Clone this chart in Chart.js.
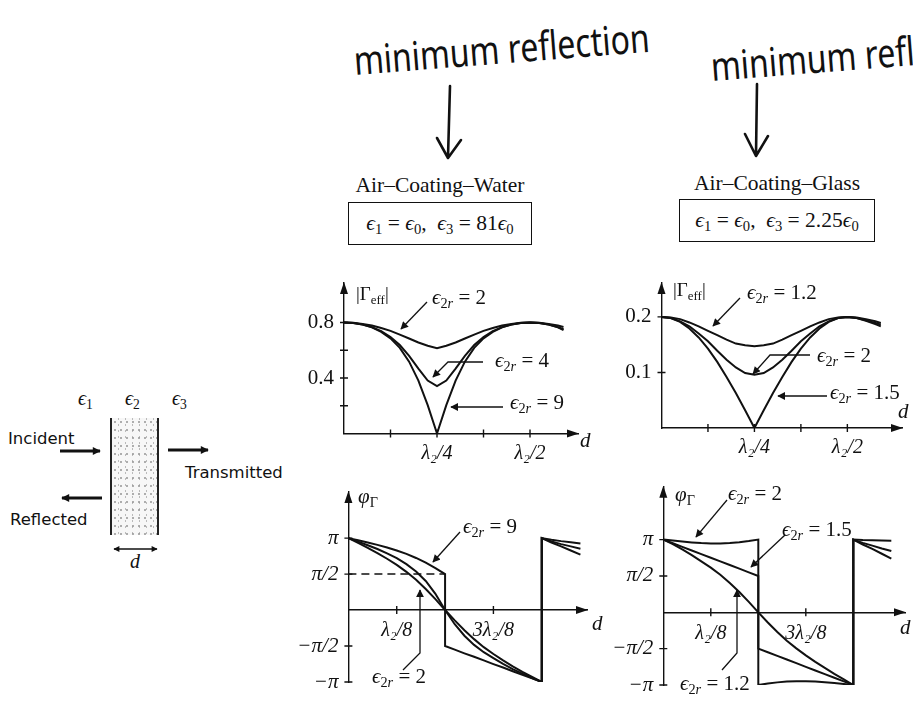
<!DOCTYPE html>
<html>
<head>
<meta charset="utf-8">
<script src="https://cdn.jsdelivr.net/npm/chart.js@4.4.1/dist/chart.umd.min.js"></script>
<style>
html, body { margin: 0; padding: 0; background: #fff; }
body { width: 913px; height: 701px; position: relative; overflow: hidden; font-family: "Liberation Serif", serif; color: #111; }
canvas { position: absolute; }
.t { position: absolute; white-space: nowrap; line-height: 1; font-size: 21px; }
.t sub { font-size: 0.68em; vertical-align: -0.3em; line-height: 0; }
.sm { font-size: 19px; }
.sans { font-family: "DejaVu Sans", sans-serif; font-size: 16.5px; }
.hand { position: absolute; white-space: nowrap; line-height: 1; font-family: "Noto Sans", sans-serif; font-size: 40px; color: #111; transform-origin: 0 35.5px; }
.box { position: absolute; border: 1.5px solid #111; box-sizing: border-box; display: flex; align-items: center; justify-content: center; font-size: 21.5px; white-space: nowrap; }
.box sub { font-size: 0.68em; vertical-align: -0.3em; line-height: 0; }
.slab { position: absolute; left: 110px; top: 418px; width: 49px; height: 117px; box-sizing: border-box;
  border-left: 2px solid #222; border-right: 2px solid #222;
  background: radial-gradient(circle, #999 0 0.6px, transparent 1.1px) 0 0 / 6px 8px,
              radial-gradient(circle, #bbb 0 0.5px, transparent 1px) 3px 4px / 7px 6px, #f7f7f7; }
svg { position: absolute; left: 0; top: 0; }
</style>
</head>
<body>

<div class="hand" style="left:355px; top:40px; transform: rotate(-4.5deg) scaleX(0.8);">minimum reflection</div>
<div class="hand" style="left:712px; top:46px; transform: rotate(-4.5deg) scaleX(0.8);">minimum reflection</div>

<div class="t" style="left:340px; top:175px; width:200px; text-align:center; font-size:21.5px;">Air–Coating–Water</div>
<div class="box" style="left:348px; top:202px; width:184px; height:43px;"><span><i>ϵ</i><sub>1</sub> = <i>ϵ</i><sub>0</sub>,&nbsp; <i>ϵ</i><sub>3</sub> = 81<i>ϵ</i><sub>0</sub></span></div>
<div class="t" style="left:677px; top:173px; width:200px; text-align:center; font-size:21.5px;">Air–Coating–Glass</div>
<div class="box" style="left:679px; top:199px; width:196px; height:43px;"><span><i>ϵ</i><sub>1</sub> = <i>ϵ</i><sub>0</sub>,&nbsp; <i>ϵ</i><sub>3</sub> = 2.25<i>ϵ</i><sub>0</sub></span></div>

<!-- slab diagram -->
<div class="slab"></div>
<div class="t" style="left:78px; top:388px; font-size:20px;"><i>ϵ</i><sub>1</sub></div>
<div class="t" style="left:125px; top:388px; font-size:20px;"><i>ϵ</i><sub>2</sub></div>
<div class="t" style="left:172px; top:388px; font-size:20px;"><i>ϵ</i><sub>3</sub></div>
<div class="t sans" style="left:8px; top:431px;">Incident</div>
<div class="t sans" style="left:185px; top:465px;">Transmitted</div>
<div class="t sans" style="left:10px; top:512px;">Reflected</div>
<div class="t" style="left:130px; top:551px; font-size:20px;"><i>d</i></div>

<canvas id="magWater"></canvas>
<canvas id="magGlass"></canvas>
<canvas id="phWater"></canvas>
<canvas id="phGlass"></canvas>

<!-- curve labels -->
<div class="t sm" style="left:356px; top:284px;">|Γ<sub>eff</sub>|</div>
<div class="t" style="left:432px; top:286.5px;"><i>ϵ</i><sub>2<i>r</i></sub> = 2</div>
<div class="t" style="left:495px; top:349.5px;"><i>ϵ</i><sub>2<i>r</i></sub> = 4</div>
<div class="t" style="left:510px; top:391.5px;"><i>ϵ</i><sub>2<i>r</i></sub> = 9</div>
<div class="t" style="left:580px; top:429.5px;"><i>d</i></div>

<div class="t sm" style="left:673px; top:280px;">|Γ<sub>eff</sub>|</div>
<div class="t" style="left:747px; top:281.5px;"><i>ϵ</i><sub>2<i>r</i></sub> = 1.2</div>
<div class="t" style="left:817px; top:344.5px;"><i>ϵ</i><sub>2<i>r</i></sub> = 2</div>
<div class="t" style="left:830px; top:381.5px;"><i>ϵ</i><sub>2<i>r</i></sub> = 1.5</div>
<div class="t" style="left:898px; top:401px;"><i>d</i></div>

<div class="t" style="left:358px; top:485.5px;"><i>φ</i><sub>Γ</sub></div>
<div class="t" style="left:463px; top:515.5px;"><i>ϵ</i><sub>2<i>r</i></sub> = 9</div>
<div class="t" style="left:372px; top:665.5px;"><i>ϵ</i><sub>2<i>r</i></sub> = 2</div>
<div class="t" style="left:592px; top:612.5px;"><i>d</i></div>

<div class="t" style="left:675px; top:483.5px;"><i>φ</i><sub>Γ</sub></div>
<div class="t" style="left:728px; top:482.5px;"><i>ϵ</i><sub>2<i>r</i></sub> = 2</div>
<div class="t" style="left:782px; top:518.5px;"><i>ϵ</i><sub>2<i>r</i></sub> = 1.5</div>
<div class="t" style="left:680px; top:672.5px;"><i>ϵ</i><sub>2<i>r</i></sub> = 1.2</div>
<div class="t" style="left:900px; top:616.5px;"><i>d</i></div>

<svg width="913" height="701">
  <defs>
    <marker id="ah" viewBox="0 0 10 10" refX="9" refY="5" markerWidth="7" markerHeight="6" orient="auto">
      <path d="M0,0 L10,5 L0,10 z" fill="#111"/>
    </marker>
    <marker id="big" viewBox="0 0 10 10" refX="9" refY="5" markerUnits="userSpaceOnUse" markerWidth="12" markerHeight="8" orient="auto-start-reverse">
      <path d="M0,0 L10,5 L0,10 z" fill="#111"/>
    </marker>
    <marker id="mid" viewBox="0 0 10 10" refX="9" refY="5" markerUnits="userSpaceOnUse" markerWidth="8" markerHeight="6" orient="auto-start-reverse">
      <path d="M0,0 L10,5 L0,10 z" fill="#111"/>
    </marker>
  </defs>
  <g fill="none" stroke="#111" stroke-width="2.6" stroke-linecap="round" stroke-linejoin="round">
    <path d="M450,86 L448,157 M437,138 L448,158 L461,140"/>
    <path d="M757,84 L756,155 M745,134 L756,156 L768,136"/>
  </g>
  <g fill="none" stroke="#111" stroke-width="3">
    <path d="M60,451 L100,451" marker-end="url(#big)"/>
    <path d="M168,450 L208,450" marker-end="url(#big)"/>
    <path d="M102,498 L62,498" marker-end="url(#big)"/>
  </g>
  <path d="M114,549 L157,549" stroke="#111" stroke-width="1.5" fill="none" marker-start="url(#mid)" marker-end="url(#mid)"/>
  <g fill="none" stroke="#111" stroke-width="1.3">
    <path d="M427,302 L401,329" marker-end="url(#ah)"/>
    <path d="M483,362 L448,362 L433,377" marker-end="url(#ah)"/>
    <path d="M503,407 L451,407" marker-end="url(#ah)"/>
    <path d="M740,298 L713,326" marker-end="url(#ah)"/>
    <path d="M810,355 L770,355 L753,374" marker-end="url(#ah)"/>
    <path d="M827,396 L778,396" marker-end="url(#ah)"/>
    <path d="M460,532 L433,562" marker-end="url(#ah)"/>
    <path d="M403,670 L420,653 L420,590" marker-end="url(#ah)"/>
    <path d="M727,500 L696,537" marker-end="url(#ah)"/>
    <path d="M785,535 L751,567" marker-end="url(#ah)"/>
    <path d="M722,670 L737,653 L737,590" marker-end="url(#ah)"/>
  </g>
</svg>

<script>
const PI = Math.PI;
const ink = "#111";

// d in units of the coating wavelength lambda_2
const dMag = [0, 0.025, 0.05, 0.075, 0.1, 0.125, 0.15, 0.175, 0.2, 0.225, 0.25, 0.275, 0.3, 0.325, 0.35, 0.375, 0.4, 0.425, 0.45, 0.475, 0.5, 0.525, 0.55, 0.575, 0.59];

// |Gamma_eff|, air-coating-water
const waterMag2 = [0.8, 0.798, 0.790, 0.778, 0.761, 0.740, 0.713, 0.685, 0.656, 0.633, 0.615, 0.633, 0.656, 0.685, 0.713, 0.740, 0.761, 0.778, 0.790, 0.798, 0.8, 0.798, 0.790, 0.778, 0.768];
const waterMag4 = [0.8, 0.797, 0.786, 0.767, 0.738, 0.696, 0.638, 0.560, 0.468, 0.382, 0.342, 0.382, 0.468, 0.560, 0.638, 0.696, 0.738, 0.767, 0.786, 0.797, 0.8, 0.797, 0.786, 0.767, 0.752];
const waterMag9 = [0.8, 0.796, 0.785, 0.765, 0.733, 0.686, 0.617, 0.518, 0.381, 0.204, 0, 0.204, 0.381, 0.518, 0.617, 0.686, 0.733, 0.765, 0.785, 0.796, 0.8, 0.796, 0.785, 0.765, 0.746];

// |Gamma_eff|, air-coating-glass
const glassMag12 = [0.2, 0.199, 0.196, 0.190, 0.183, 0.175, 0.167, 0.159, 0.152, 0.149, 0.147, 0.149, 0.152, 0.159, 0.167, 0.175, 0.183, 0.190, 0.196, 0.199, 0.2, 0.199, 0.196, 0.192, 0.189];
const glassMag2 = [0.2, 0.198, 0.192, 0.183, 0.170, 0.156, 0.139, 0.123, 0.109, 0.099, 0.096, 0.099, 0.109, 0.123, 0.139, 0.156, 0.170, 0.183, 0.192, 0.198, 0.2, 0.198, 0.194, 0.189, 0.186];
const glassMag15 = [0.2, 0.198, 0.191, 0.179, 0.163, 0.143, 0.119, 0.092, 0.063, 0.032, 0, 0.032, 0.063, 0.092, 0.119, 0.143, 0.163, 0.179, 0.191, 0.198, 0.2, 0.198, 0.193, 0.187, 0.183];

// phase: 0.25 and 0.5 appear twice so the jumps are drawn as vertical steps
const dPhase = [0, 0.025, 0.05, 0.075, 0.1, 0.125, 0.15, 0.175, 0.2, 0.225, 0.25, 0.25, 0.275, 0.3, 0.325, 0.35, 0.375, 0.4, 0.425, 0.45, 0.475, 0.5, 0.5, 0.525, 0.55, 0.575, 0.6];

const waterPh9 = [3.1416, 3.047, 2.949, 2.845, 2.730, 2.601, 2.451, 2.275, 2.067, 1.829, 1.571, -1.571, -1.73, -1.89, -2.04, -2.20, -2.36, -2.51, -2.67, -2.83, -2.98, -3.1416, 3.1416, 3.07, 3.01, 2.96, 2.91];
const waterPh4 = [3.1416, 2.990, 2.832, 2.664, 2.477, 2.263, 2.006, 1.685, 1.268, 0.708, 0, 0, -0.62, -1.12, -1.52, -1.84, -2.10, -2.35, -2.58, -2.78, -2.97, -3.1416, 3.1416, 3.0, 2.88, 2.78, 2.68];
const waterPh2 = [3.1416, 2.93, 2.72, 2.49, 2.24, 1.97, 1.67, 1.32, 0.92, 0.48, 0, 0, -0.45, -0.88, -1.27, -1.62, -1.92, -2.20, -2.46, -2.70, -2.92, -3.1416, 3.1416, 2.95, 2.78, 2.60, 2.42];

const glassPh2 = [3.1416, 3.098, 3.056, 3.020, 2.993, 2.977, 2.976, 2.993, 3.028, 3.080, 3.1416, -3.1416, -3.080, -3.028, -2.993, -2.976, -2.977, -2.993, -3.020, -3.056, -3.098, -3.1416, 3.1416, 3.12, 3.11, 3.10, 3.09];
const glassPh15 = [3.1416, 2.985, 2.827, 2.670, 2.513, 2.356, 2.199, 2.042, 1.885, 1.728, 1.571, -1.571, -1.728, -1.885, -2.042, -2.199, -2.356, -2.513, -2.670, -2.827, -2.985, -3.1416, 3.1416, 3.0, 2.88, 2.76, 2.65];
const glassPh12 = [3.1416, 2.95, 2.72, 2.47, 2.20, 1.93, 1.62, 1.27, 0.88, 0.45, 0, 0, -0.44, -0.85, -1.23, -1.56, -1.86, -2.14, -2.40, -2.66, -2.90, -3.1416, 3.1416, 2.93, 2.74, 2.53, 2.32];

// dashed pi/2 guide in the water phase plot
const guideX = [0, 0.25];
const guideY = [PI / 2, PI / 2];

// ticks
const magXTicks = [0.125, 0.25, 0.375, 0.5];
const magXLabels = ["", "λ₂/4", "", "λ₂/2"];
const waterMagYTicks = [0.2, 0.4, 0.6, 0.8];
const waterMagYLabels = ["", "0.4", "", "0.8"];
const glassMagYTicks = [0.1, 0.2];
const glassMagYLabels = ["0.1", "0.2"];
const phXTicks = [0.125, 0.375];
const phXLabels = ["λ₂/8", "3λ₂/8"];
const phYTicks = [-PI, -PI / 2, PI / 2, PI];
const phYLabels = ["−π", "−π/2", "π/2", "π"];

// tick marks across the axes and arrow heads at the axis ends
const axisDecor = {
  id: "axisDecor",
  afterDraw(chart) {
    const { ctx, chartArea: a, scales } = chart;
    const xs = scales.x, ys = scales.y;
    const y0 = ys.getPixelForValue(0);
    const x0 = xs.getPixelForValue(0);
    ctx.save();
    ctx.strokeStyle = ink;
    ctx.fillStyle = ink;
    ctx.lineWidth = 1.4;
    ctx.beginPath();
    ys.ticks.forEach(t => {
      const p = ys.getPixelForValue(t.value);
      ctx.moveTo(x0 - 4, p); ctx.lineTo(x0 + 4, p);
    });
    xs.ticks.forEach(t => {
      const p = xs.getPixelForValue(t.value);
      ctx.moveTo(p, y0 - 4); ctx.lineTo(p, y0 + 4);
    });
    ctx.stroke();
    ctx.beginPath();
    ctx.moveTo(x0, a.top - 1); ctx.lineTo(x0 - 4, a.top + 11); ctx.lineTo(x0 + 4, a.top + 11);
    ctx.closePath(); ctx.fill();
    ctx.beginPath();
    ctx.moveTo(a.right + 1, y0); ctx.lineTo(a.right - 11, y0 - 4); ctx.lineTo(a.right - 11, y0 + 4);
    ctx.closePath(); ctx.fill();
    ctx.restore();
  }
};

function zeroPad(s) { s.paddingLeft = 0; s.paddingRight = 0; s.paddingTop = 0; s.paddingBottom = 0; }

function makeChart(id, o) {
  const cv = document.getElementById(id);
  const b = o.box, ar = o.area;
  cv.width = b.w; cv.height = b.h;
  cv.style.left = b.x + "px"; cv.style.top = b.y + "px";
  const yW = ar.left - b.x;
  const below = b.y + b.h - ar.bottom;
  const sets = o.series.map(s => ({
    label: s.label,
    data: o.xs.map((x, i) => ({ x: x, y: s.values[i] })),
    showLine: true,
    borderColor: ink,
    borderWidth: s.width || 2,
    borderDash: s.dash || [],
    pointRadius: 0,
    tension: 0
  }));
  if (o.guide) {
    sets.push({
      label: "π/2",
      data: guideX.map((x, i) => ({ x: x, y: guideY[i] })),
      showLine: true, borderColor: ink, borderWidth: 1.5, borderDash: [8, 5], pointRadius: 0
    });
  }
  return new Chart(cv, {
    type: "scatter",
    data: { datasets: sets },
    options: {
      responsive: false,
      animation: false,
      events: [],
      layout: { padding: { top: ar.top - b.y, right: b.x + b.w - ar.right, bottom: o.center ? below : 0, left: 0 } },
      plugins: { legend: { display: false }, tooltip: { enabled: false } },
      scales: {
        x: {
          type: "linear", min: 0, max: o.xMax, bounds: "data",
          position: o.center ? { y: 0 } : "bottom",
          grid: { display: false, drawTicks: false },
          border: { display: true, color: ink, width: 1.4 },
          afterBuildTicks: s => { s.ticks = o.xTicks.map(v => ({ value: v })); },
          afterFit: s => { if (!o.center) s.height = below; zeroPad(s); },
          ticks: {
            autoSkip: false, maxRotation: 0, padding: o.center ? 9 : 8, color: ink,
            font: { family: "'Liberation Serif', serif", size: 20, style: "italic" },
            callback: (v, i) => o.xLabels[i]
          }
        },
        y: {
          type: "linear", min: o.yMin, max: o.yMax, bounds: "data", position: "left",
          grid: { display: false, drawTicks: false },
          border: { display: true, color: ink, width: 1.4 },
          afterBuildTicks: s => { s.ticks = o.yTicks.map(v => ({ value: v })); },
          afterFit: s => { s.width = yW; zeroPad(s); },
          ticks: {
            autoSkip: false, padding: 10, color: ink,
            font: { family: "'Liberation Serif', serif", size: 21, style: o.center ? "italic" : "normal" },
            callback: (v, i) => o.yLabels[i]
          }
        }
      }
    },
    plugins: [axisDecor]
  });
}

makeChart("magWater", {
  box: { x: 290, y: 275, w: 300, h: 195 },
  area: { left: 344, top: 283, right: 578, bottom: 433.5 },
  xMax: 0.629, yMin: 0, yMax: 1.085,
  xs: dMag,
  series: [
    { label: "ε2r = 2", values: waterMag2 },
    { label: "ε2r = 4", values: waterMag4 },
    { label: "ε2r = 9", values: waterMag9 }
  ],
  xTicks: magXTicks, xLabels: magXLabels, yTicks: waterMagYTicks, yLabels: waterMagYLabels
});

makeChart("magGlass", {
  box: { x: 605, y: 275, w: 308, h: 190 },
  area: { left: 661.5, top: 283, right: 902, bottom: 428 },
  xMax: 0.647, yMin: 0, yMax: 0.261,
  xs: dMag,
  series: [
    { label: "ε2r = 1.2", values: glassMag12 },
    { label: "ε2r = 2", values: glassMag2 },
    { label: "ε2r = 1.5", values: glassMag15 }
  ],
  xTicks: magXTicks, xLabels: magXLabels, yTicks: glassMagYTicks, yLabels: glassMagYLabels
});

makeChart("phWater", {
  box: { x: 285, y: 480, w: 310, h: 215 },
  area: { left: 348.4, top: 492, right: 587, bottom: 682 },
  xMax: 0.617, yMin: -PI, yMax: 5.155, center: true, guide: true,
  xs: dPhase,
  series: [
    { label: "ε2r = 9", values: waterPh9 },
    { label: "ε2r = 4", values: waterPh4 },
    { label: "ε2r = 2", values: waterPh2 }
  ],
  xTicks: phXTicks, xLabels: phXLabels, yTicks: phYTicks, yLabels: phYLabels
});

makeChart("phGlass", {
  box: { x: 600, y: 475, w: 313, h: 220 },
  area: { left: 663.3, top: 486.7, right: 905, bottom: 685 },
  xMax: 0.636, yMin: -PI, yMax: 5.428, center: true,
  xs: dPhase,
  series: [
    { label: "ε2r = 2", values: glassPh2 },
    { label: "ε2r = 1.5", values: glassPh15 },
    { label: "ε2r = 1.2", values: glassPh12 }
  ],
  xTicks: phXTicks, xLabels: phXLabels, yTicks: phYTicks, yLabels: phYLabels
});
</script>
</body>
</html>
